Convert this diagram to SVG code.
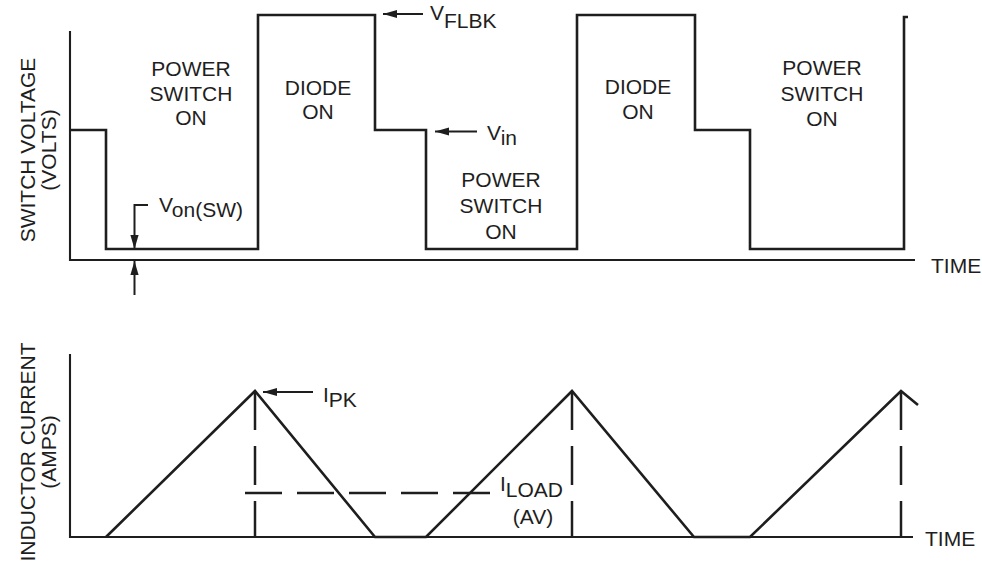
<svg xmlns="http://www.w3.org/2000/svg" width="982" height="563" viewBox="0 0 982 563">
<style>
text{font-family:"Liberation Sans",Arial,sans-serif;font-size:21px;fill:#1e1e1e}
.c{text-anchor:middle}
.ln{fill:none;stroke:#1e1e1e;stroke-width:2.6;stroke-linejoin:miter}
.ax{fill:none;stroke:#1e1e1e;stroke-width:2.1}
.dash{fill:none;stroke:#1e1e1e;stroke-width:2.5}
.arr{fill:none;stroke:#1e1e1e;stroke-width:2;marker-end:url(#ah)}
</style>
<defs>
<marker id="ah" markerUnits="userSpaceOnUse" markerWidth="15" markerHeight="10" refX="14" refY="5" orient="auto">
<path d="M0,0.9 L14,5 L0,9.1 z" fill="#1e1e1e"/>
</marker>
</defs>
<rect width="982" height="563" fill="#ffffff"/>

<g id="top-chart">
<path class="ax" d="M70,31 V260 H915"/>
<path class="ln" d="M70,130 H106 V249 H258 V15 H375 V130 H426 V249 H577 V15 H695 V130 H750 V249 H904 V17 H908"/>
</g>

<g id="bottom-chart">
<path class="ax" d="M70,354 V537 H913"/>
<path class="ln" d="M106,537 L255,391 L375,537 H426 L572,391 L694,537 H750 L901,391 L918,405"/>
</g>

<g id="connectors">
<path class="arr" d="M148,205 H134.5 V249"/>
<path class="arr" d="M134.5,295 V261"/>
<path class="arr" d="M423,14 H383"/>
<path class="arr" d="M477,131.5 H435"/>
<path class="arr" d="M313,392 H263"/>
<path class="dash" stroke-dasharray="39 16" d="M255,391 V537"/>
<path class="dash" stroke-dasharray="39 16" d="M572,391 V537"/>
<path class="dash" stroke-dasharray="39 16" d="M901,391 V537"/>
<path class="dash" stroke-dasharray="37 15" d="M245,493 H490"/>
</g>

<g id="ylabel-top">
<text class="c" transform="translate(35,150) rotate(-90)">SWITCH VOLTAGE</text>
<text class="c" transform="translate(56,150) rotate(-90)">(VOLTS)</text>
</g>
<g id="ylabel-bottom">
<text class="c" transform="translate(35,452) rotate(-90)">INDUCTOR CURRENT</text>
<text class="c" transform="translate(56,452) rotate(-90)">(AMPS)</text>
</g>

<g id="power-switch-1">
<text class="c" x="191" y="76">POWER</text>
<text class="c" x="191" y="100.5">SWITCH</text>
<text class="c" x="191" y="125">ON</text>
</g>
<g id="diode-1">
<text class="c" x="318" y="95">DIODE</text>
<text class="c" x="318" y="119">ON</text>
</g>
<g id="power-switch-2">
<text class="c" x="501" y="187">POWER</text>
<text class="c" x="501" y="213">SWITCH</text>
<text class="c" x="501" y="239">ON</text>
</g>
<g id="diode-2">
<text class="c" x="638" y="94">DIODE</text>
<text class="c" x="638" y="119">ON</text>
</g>
<g id="power-switch-3">
<text class="c" x="822" y="75">POWER</text>
<text class="c" x="822" y="100.5">SWITCH</text>
<text class="c" x="822" y="126">ON</text>
</g>

<g id="label-vflbk"><text x="430" y="20">V<tspan dy="8">FLBK</tspan></text></g>
<g id="label-vin"><text x="487" y="140">V<tspan dy="5">in</tspan></text></g>
<g id="label-von"><text x="159" y="212">V<tspan dy="5">on(SW)</tspan></text></g>
<g id="label-ipk"><text x="323" y="402">I<tspan dy="5">PK</tspan></text></g>
<g id="label-iload">
<text x="500" y="491">I<tspan dy="6">LOAD</tspan></text>
<text class="c" x="533" y="524">(AV)</text>
</g>
<g id="time-top"><text x="931" y="273">TIME</text></g>
<g id="time-bottom"><text x="925" y="546">TIME</text></g>
</svg>
